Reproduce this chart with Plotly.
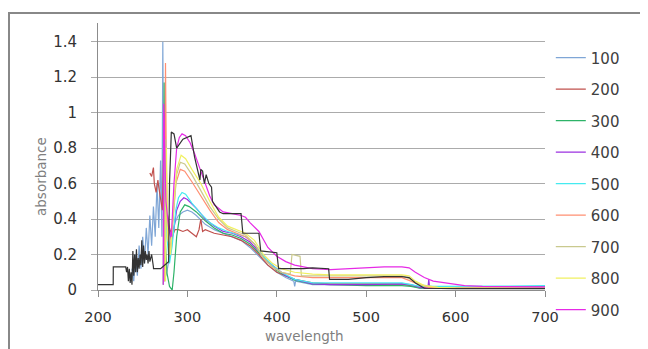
import plotly.graph_objects as go

# ---- data: (wavelength, absorbance) pairs ----
s100 = [(238,0.12),(240,0.05),(242,0.2),(244,0.08),(246,0.25),(248,0.12),(250,0.3),(252,0.15),
        (254,0.35),(256,0.2),(258,0.42),(260,0.25),(262,0.47),(264,0.3),(266,0.6),(268,0.35),
        (270,0.73),(271.5,0.3),(272.5,1.40),(274,0.05),(277,0.1),(280,0.2),(283,0.3),(286,0.38),
        (290,0.42),(295,0.44),(300,0.45),(305,0.44),(310,0.42),(320,0.37),(330,0.34),(340,0.32),
        (350,0.30),(360,0.28),(370,0.24),(380,0.19),(390,0.14),(400,0.10),(410,0.07),(419,0.05),
        (420,0.02),(421,0.05),(430,0.04),(440,0.03),(460,0.03),(500,0.03),(540,0.03),(550,0.025),
        (560,0.01),(580,0.01),(600,0.01),(650,0.015),(700,0.02)]
s200 = [(258,0.66),(260,0.64),(262,0.69),(263,0.6),(265,0.55),(267,0.62),(268,0.58),(270,0.5),
        (272,0.45),(274,0.93),(275,0.3),(277,0.45),(280,0.35),(283,0.3),(286,0.34),(290,0.34),
        (295,0.33),(300,0.34),(305,0.32),(310,0.3),(313,0.34),(315,0.40),(317,0.33),(320,0.34),
        (330,0.32),(340,0.31),(350,0.30),(360,0.28),(370,0.25),(380,0.20),(390,0.14),(400,0.10),
        (420,0.06),(440,0.04),(460,0.035),(500,0.035),(540,0.035),(555,0.02),(570,0.01),
        (600,0.01),(650,0.012),(700,0.015)]
s300 = [(273,0.03),(274,1.17),(275,0.3),(277,0.1),(280,0.02),(283,0.0),(285,0.1),(288,0.3),
        (292,0.44),(297,0.48),(302,0.47),(310,0.44),(320,0.39),(330,0.35),(340,0.32),(350,0.31),
        (360,0.29),(370,0.26),(380,0.21),(390,0.16),(400,0.11),(410,0.08),(420,0.055),(440,0.035),
        (460,0.03),(500,0.025),(540,0.025),(550,0.02),(560,0.01),(580,0.01),(600,0.01),
        (650,0.015),(700,0.015)]
s400 = [(273.5,0.05),(274.5,1.0),(276,0.5),(279,0.35),(282,0.28),(285,0.35),(288,0.45),(292,0.5),
        (296,0.52),(300,0.51),(310,0.46),(320,0.40),(330,0.36),(340,0.33),(350,0.32),(360,0.30),
        (370,0.27),(380,0.22),(390,0.16),(400,0.12),(410,0.08),(420,0.06),(440,0.035),(460,0.03),
        (500,0.03),(540,0.035),(550,0.03),(560,0.015),(569,0.01),(570,0.06),(571,0.01),(580,0.01),
        (600,0.01),(650,0.015),(700,0.015)]
s500 = [(274,0.05),(275,0.9),(277,0.3),(280,0.15),(283,0.25),(287,0.45),(290,0.52),(294,0.55),
        (298,0.54),(305,0.49),(315,0.43),(325,0.38),(335,0.35),(345,0.33),(355,0.315),(365,0.30),
        (375,0.26),(385,0.19),(395,0.14),(405,0.10),(420,0.06),(440,0.04),(460,0.04),(500,0.04),
        (540,0.04),(550,0.03),(560,0.02),(580,0.02),(600,0.02),(650,0.022),(700,0.025)]
s600 = [(274.5,0.05),(275.5,1.28),(277,0.4),(280,0.2),(283,0.35),(287,0.6),(292,0.68),(297,0.67),
        (305,0.61),(315,0.53),(325,0.45),(335,0.38),(345,0.34),(355,0.32),(365,0.30),(375,0.26),
        (385,0.18),(395,0.13),(405,0.10),(420,0.08),(440,0.07),(460,0.07),(500,0.07),(540,0.07),
        (550,0.05),(560,0.03),(570,0.015),(600,0.012),(650,0.012),(700,0.012)]
s700 = [(275,0.05),(276,0.85),(278,0.3),(281,0.2),(284,0.4),(288,0.65),(292,0.72),(297,0.71),
        (305,0.65),(315,0.56),(325,0.47),(335,0.40),(345,0.35),(355,0.33),(365,0.31),(375,0.26),
        (385,0.18),(395,0.13),(405,0.10),(415,0.09),(417,0.2),(426,0.19),(427.5,0.08),(440,0.08),
        (460,0.08),(500,0.08),(540,0.08),(550,0.06),(560,0.03),(580,0.015),(600,0.01),
        (650,0.01),(700,0.01)]
s800 = [(275.5,0.05),(276.5,0.8),(278,0.3),(281,0.2),(284,0.45),(288,0.68),(293,0.76),(298,0.74),
        (305,0.68),(315,0.60),(325,0.50),(335,0.41),(345,0.36),(355,0.34),(365,0.32),(375,0.28),
        (385,0.20),(395,0.15),(405,0.12),(420,0.10),(440,0.09),(460,0.085),(500,0.085),(540,0.085),
        (548,0.08),(555,0.05),(565,0.025),(580,0.015),(600,0.012),(650,0.01),(700,0.01)]
s900 = [(273,0.03),(273.5,1.05),(276,0.5),(279,0.35),(282,0.3),(285,0.6),(288,0.8),(291,0.86),
        (294,0.88),(298,0.87),(303,0.83),(308,0.77),(315,0.67),(320,0.60),(325,0.53),(330,0.48),
        (340,0.44),(350,0.43),(360,0.42),(365,0.41),(370,0.38),(380,0.33),(390,0.24),(400,0.19),
        (410,0.16),(420,0.14),(440,0.12),(460,0.115),(480,0.12),(500,0.125),(520,0.13),(540,0.13),
        (548,0.125),(555,0.10),(565,0.07),(575,0.05),(590,0.04),(610,0.025),(630,0.02),
        (650,0.02),(700,0.018)]
s_black = [(200,0.03),(217,0.03),(217.1,0.13),(231,0.13),(232,0.1),(233,0.13),(234,0.05),(235,0.12),
           (236,0.04),(237,0.1),(238,0.03),(239,0.22),(240,0.08),(241,0.2),(242,0.1),(243,0.23),
           (244,0.1),(245,0.18),(246,0.12),(247,0.2),(248,0.14),(249,0.28),(250,0.13),(251,0.25),
           (252,0.15),(253,0.22),(254,0.17),(255,0.2),(256,0.15),(257,0.22),(258,0.16),(259,0.18),
           (260,0.2),(262,0.13),(262.1,0.12),(270,0.12),(275,0.14),(279,0.16),(280,0.6),(282,0.89),
           (285,0.88),(288,0.8),(295,0.85),(303,0.87),(304,0.87),(308,0.75),(310,0.7),(312,0.65),
           (314,0.62),(315,0.68),(317,0.67),(319,0.6),(320,0.62),(321,0.65),(324,0.6),(327,0.58),
           (328,0.5),(332,0.47),(336,0.44),(340,0.43),(345,0.43),(360,0.43),(362,0.32),(380,0.32),
           (382,0.22),(400,0.21),(402,0.12),(420,0.12),(430,0.12),(440,0.125),(450,0.12),(458,0.12),
           (459,0.06),(480,0.06),(500,0.07),(520,0.075),(540,0.075),(548,0.07),(555,0.04),(565,0.01),
           (600,0.008),(650,0.008),(700,0.008)]

series_names = ["100","200","300","400","500","600","700","800","900"]
series_data = [s100, s200, s300, s400, s500, s600, s700, s800, s900]
series_colors = ["#7FA6D6","#C0504D","#2DB368","#9B30E0","#45EAF0",
                 "#FF8F72","#C9C98E","#F0F060","#E62AE6"]

fig = go.Figure()
for name, data, col in zip(series_names, series_data, series_colors):
    fig.add_trace(go.Scatter(x=[p[0] for p in data], y=[p[1] for p in data], mode="lines",
                             name=name, legendgroup=name,
                             line=dict(color=col, width=1.2)))
fig.add_trace(go.Scatter(x=[p[0] for p in s_black], y=[p[1] for p in s_black], mode="lines",
                         line=dict(color="#333333", width=1.2), showlegend=False, name="1000"))

# page body has an 8px default margin, so the figure is 8px smaller and margins shifted
font_family = "DejaVu Sans"
legend_cfg = dict(x=1.013, y=0.931, xanchor="left", yanchor="top",
                  font=dict(size=15, color="#404040"),
                  tracegroupgap=9, itemwidth=30,
                  bgcolor="rgba(0,0,0,0)")
fig.update_layout(
    width=640, height=341,
    margin=dict(l=90, r=103, t=15, b=59),
    paper_bgcolor="white", plot_bgcolor="white",
    font=dict(family=font_family, size=15, color="#404040"),
    showlegend=True,
    legend=legend_cfg,
    xaxis=dict(range=[200, 700], dtick=100, tick0=200, showgrid=False,
               showline=True, linecolor="#8C8C8C", linewidth=1,
               ticks="outside", ticklen=6, tickcolor="#8C8C8C",
               ticklabelstandoff=8, zeroline=False,
               tickfont=dict(size=14.5, color="#333333")),
    yaxis=dict(range=[0, 1.505], dtick=0.2, tick0=0, showgrid=True,
               gridcolor="#ABABAB", gridwidth=1,
               showline=True, linecolor="#8C8C8C", linewidth=1,
               ticks="outside", ticklen=6, tickcolor="#ABABAB",
               ticklabelstandoff=11, zeroline=False,
               tickfont=dict(size=15, color="#333333")),
    shapes=[dict(type="rect", xref="paper", yref="paper",
                 x0=(9-98)/447, x1=2.0, y0=-1.0, y1=(290-13)/267,
                 line=dict(color="#888888", width=2), fillcolor="rgba(0,0,0,0)", layer="below")],
    annotations=[
        dict(text="wavelength", xref="paper", yref="paper", x=(304-98)/447, y=(290-336)/267,
             xanchor="center", yanchor="middle", showarrow=False,
             font=dict(size=13.5, color="#7F7F7F")),
        dict(text="absorbance", xref="paper", yref="paper", x=(41-98)/447, y=(290-176)/267,
             xanchor="center", yanchor="middle", showarrow=False, textangle=-90,
             font=dict(size=13.5, color="#7F7F7F")),
    ],
)
try:
    fig.update_layout(legend_maxheight=340)
except Exception:
    pass
fig.write_html("out.html")
